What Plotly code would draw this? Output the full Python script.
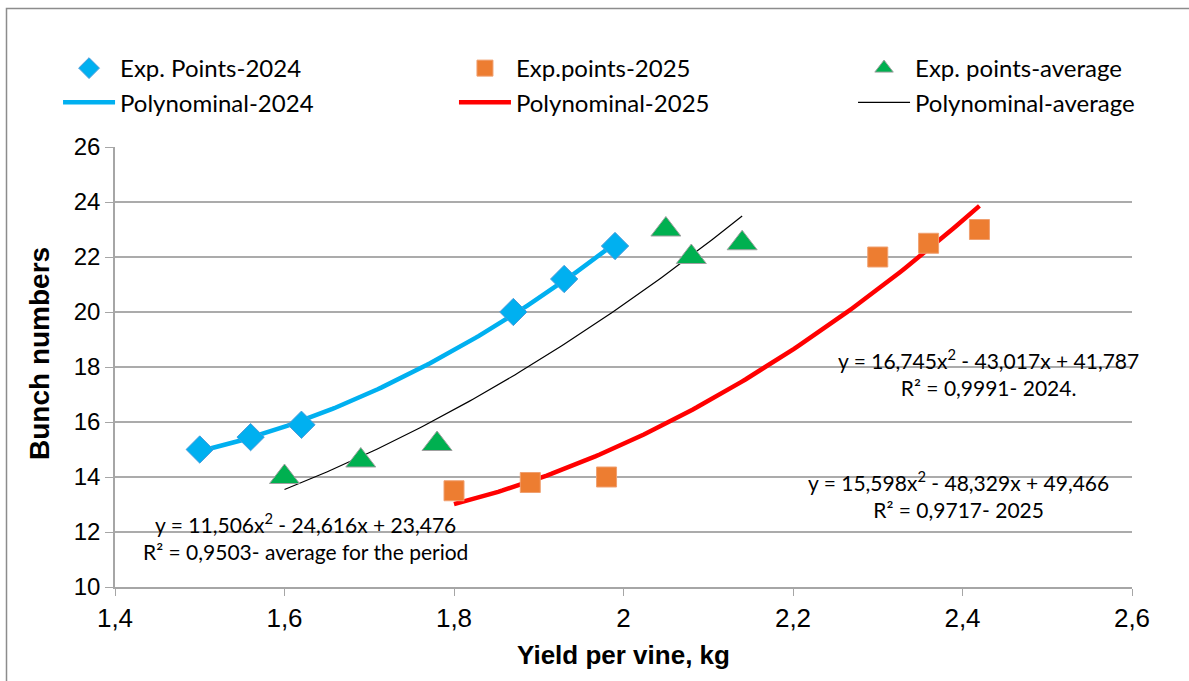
import numpy as np
import plotly.graph_objects as go

# Experimental points
x_2024 = [1.50, 1.56, 1.62, 1.87, 1.93, 1.99]
y_2024 = [15.0, 15.45, 15.9, 20.0, 21.2, 22.4]

x_2025 = [1.80, 1.89, 1.98, 2.30, 2.36, 2.42]
y_2025 = [13.5, 13.8, 14.0, 22.0, 22.5, 23.0]

x_avg = [1.60, 1.69, 1.78, 2.05, 2.08, 2.14]
y_avg = [14.0, 14.6, 15.2, 23.0, 22.0, 22.5]

# Second-order polynomial trend coefficients (a, b, c): y = a*x^2 + b*x + c
coef_2024 = [16.745, -43.017, 41.787]
coef_2025 = [15.598, -48.329, 49.466]
coef_avg = [11.506, -24.616, 23.476]

r2_2024 = "0,9991"
r2_2025 = "0,9717"
r2_avg = "0,9503"

x_ticks = [1.4, 1.6, 1.8, 2.0, 2.2, 2.4, 2.6]
x_tick_text = ["1,4", "1,6", "1,8", "2", "2,2", "2,4", "2,6"]
y_ticks = [10, 12, 14, 16, 18, 20, 22, 24, 26]


def poly_curve(coef, xs):
    xx = np.linspace(min(xs), max(xs), 120)
    return xx, coef[0] * xx ** 2 + coef[1] * xx + coef[2]


def fmt(v):
    return f"{abs(v):.3f}".replace(".", ",")


def eq_text(coef, r2, tail):
    a, b, c = coef
    sb = "-" if b < 0 else "+"
    sc = "-" if c < 0 else "+"
    return (f"y = {fmt(a)}x<sup>2</sup> {sb} {fmt(b)}x {sc} {fmt(c)}"
            f"<br>R² = {r2}{tail}")


LEG_FONT = "Lato, Carlito, Calibri, sans-serif"
AX_FONT = "Liberation Sans, Arial, sans-serif"

BLUE = "#00B0F0"
ORANGE = "#ED7D31"
GREEN = "#00B050"
RED = "#FF0000"

# Plot-area pixel geometry (used to place the frame and the axis title)
L, R, T, B = 115, 57, 147, 94
W, H = 1189, 681
PW, PH = W - L - R, H - T - B

fig = go.Figure()

# Trend lines (drawn first so markers sit on top)
px, py = poly_curve(coef_2024, x_2024)
fig.add_trace(go.Scatter(x=px, y=py, mode="lines", name="Polynominal-2024",
                         legend="legend", legendrank=2,
                         line=dict(color=BLUE, width=4.5)))
px, py = poly_curve(coef_2025, x_2025)
fig.add_trace(go.Scatter(x=px, y=py, mode="lines", name="Polynominal-2025",
                         legend="legend2", legendrank=2,
                         line=dict(color=RED, width=4.5)))
px, py = poly_curve(coef_avg, x_avg)
fig.add_trace(go.Scatter(x=px, y=py, mode="lines", name="Polynominal-average",
                         legend="legend3", legendrank=2,
                         line=dict(color="#000000", width=1.2)))

fig.add_trace(go.Scatter(
    x=x_2024, y=y_2024, mode="markers", name="Exp. Points-2024",
    legend="legend", legendrank=1,
    marker=dict(symbol="diamond", size=21, color=BLUE,
                line=dict(color="#4A9BDA", width=1))))
fig.add_trace(go.Scatter(
    x=x_2025, y=y_2025, mode="markers", name="Exp.points-2025",
    legend="legend2", legendrank=1,
    marker=dict(symbol="square", size=20, color=ORANGE,
                line=dict(color="#F0A070", width=1))))
fig.add_trace(go.Scatter(
    x=x_avg, y=y_avg, mode="markers", name="Exp. points-average",
    legend="legend3", legendrank=1,
    marker=dict(symbol="triangle-up", size=26, color=GREEN,
                line=dict(color="#A0A0A0", width=1))))

ann_font = dict(family=LEG_FONT, size=21, color="#000000")
fig.add_annotation(x=2.4306, y=17.8, text=eq_text(coef_2024, r2_2024, "- 2024."),
                   showarrow=False, font=ann_font, align="center")
fig.add_annotation(x=2.395, y=13.35, text=eq_text(coef_2025, r2_2025, "- 2025"),
                   showarrow=False, font=ann_font, align="center")
fig.add_annotation(x=1.625, y=11.85, text=eq_text(coef_avg, r2_avg, "- average for the period"),
                   showarrow=False, font=ann_font, align="center")

# Vertical axis title
fig.add_annotation(xref="paper", yref="paper",
                   x=(39 - L) / PW, y=(H - B - 354) / PH,
                   text="<b>Bunch numbers</b>", textangle=-90, showarrow=False,
                   xanchor="center", yanchor="middle",
                   font=dict(family=AX_FONT, size=28, color="#000000"))

# Chart frame
fig.add_shape(type="rect", xref="paper", yref="paper",
              x0=(6.5 - L) / PW, x1=(1200 - L) / PW,
              y0=(H - B - 700) / PH, y1=(H - B - 8.5) / PH,
              line=dict(color="#8C8C8C", width=1.5), fillcolor="rgba(0,0,0,0)",
              layer="below")

legend_common = dict(orientation="v", y=1.2295, xanchor="left", yanchor="top",
                     itemwidth=52, traceorder="normal",
                     font=dict(family=LEG_FONT, size=24, color="#000000"),
                     bgcolor="rgba(0,0,0,0)")

fig.update_layout(
    width=W, height=H,
    margin=dict(l=L, r=R, t=T, b=B),
    paper_bgcolor="white", plot_bgcolor="white",
    legend=dict(x=-0.056, **legend_common),
    legend2=dict(x=0.3333, **legend_common),
    legend3=dict(x=0.7257, **legend_common),
    xaxis=dict(range=[1.4, 2.6], tickvals=x_ticks, ticktext=x_tick_text,
               showgrid=False, zeroline=False,
               showline=True, linecolor="#A6A6A6", linewidth=1.5,
               ticks="outside", ticklen=7, tickcolor="#A6A6A6", tickwidth=1.2,
               tickfont=dict(family=AX_FONT, size=26, color="#000000"),
               title=dict(text="<b>Yield per vine, kg</b>", standoff=14,
                          font=dict(family=AX_FONT, size=26, color="#000000"))),
    yaxis=dict(range=[10, 26], tickvals=y_ticks,
               showgrid=True, gridcolor="#ABABAB", gridwidth=1.5, zeroline=False,
               showline=True, linecolor="#A6A6A6", linewidth=1.5,
               ticks="outside", ticklen=8, tickcolor="#A6A6A6", tickwidth=1.2,
               tickfont=dict(family=AX_FONT, size=24, color="#000000")),
)

fig.write_html("out.html")
